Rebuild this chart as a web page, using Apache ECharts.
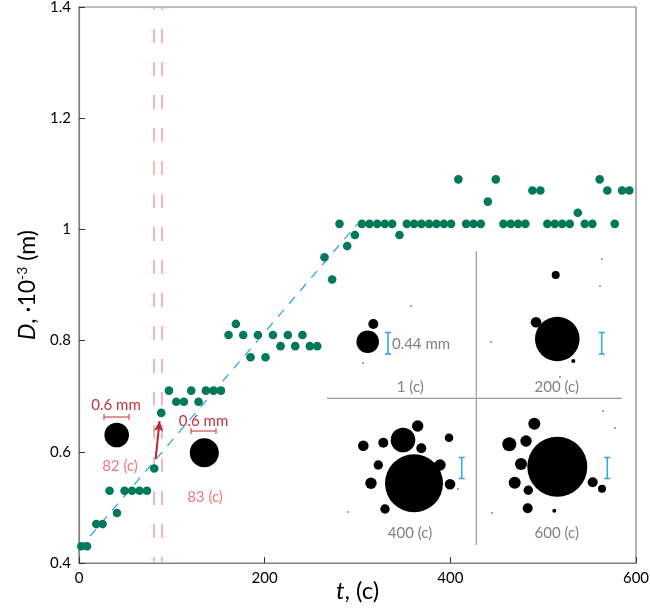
<!DOCTYPE html>
<html>
<head>
<meta charset="utf-8">
<script src="https://cdn.jsdelivr.net/npm/echarts@6/dist/echarts.min.js"></script>
<style>html,body{margin:0;padding:0;background:#fff;}#c{width:650px;height:610px;}</style>
</head>
<body>
<div id="c"></div>
<script>
// ---- data ----
var tValues = [2.5, 8.6, 18.6, 25.4, 32.9, 40.9, 49.1, 57.1, 65.2, 73.2, 81.1, 88.6, 96.9, 104.8, 113.0, 120.9, 128.8, 136.7, 144.9, 152.9, 161.1, 169.0, 176.9, 184.8, 192.7, 200.9, 208.9, 217.1, 225.0, 232.9, 240.7, 248.7, 256.6, 264.4, 272.7, 280.6, 288.9, 297.2, 304.7, 312.9, 321.2, 329.5, 337.3, 345.2, 353.1, 361.0, 368.9, 377.1, 385.0, 393.0, 400.8, 408.7, 417.0, 424.9, 432.8, 440.4, 449.0, 457.2, 465.1, 473.0, 480.8, 488.4, 497.0, 504.5, 512.5, 520.4, 528.6, 537.3, 544.8, 553.0, 560.9, 569.1, 577.1, 585.0, 592.8];
var dValues = [0.43,0.43,0.47,0.47,0.53,0.49,0.53,0.53,0.53,0.53,0.57,0.67,0.71,0.69,0.69,0.71,0.69,0.71,0.71,0.71,0.81,0.83,0.81,0.77,0.81,0.77,0.81,0.79,0.81,0.79,0.81,0.79,0.79,0.95,0.91,1.01,0.97,0.99,1.01,1.01,1.01,1.01,1.01,0.99,1.01,1.01,1.01,1.01,1.01,1.01,1.01,1.09,1.01,1.01,1.01,1.05,1.09,1.01,1.01,1.01,1.01,1.07,1.07,1.01,1.01,1.01,1.01,1.03,1.01,1.01,1.09,1.07,1.01,1.07,1.07];
var trendT = [0, 300];
var trendD = [0.425, 1.01];
var markTimes = [81, 89];
var arrowFrom = [82.5, 0.587];
var arrowTo = [86.8, 0.655];
var xTicks = [0, 200, 400, 600];
var yTicks = [0.4, 0.6, 0.8, 1.0, 1.2, 1.4];
var insetLabels = ['82 (c)', '83 (c)', '1 (c)', '200 (c)', '400 (c)', '600 (c)'];
var scaleLabels = ['0.6 mm', '0.6 mm', '0.44 mm'];

var FONT = 'Lato, "Open Sans", sans-serif';
var points = tValues.map(function (t, i) { return [t, dValues[i]]; });
var trend = trendT.map(function (t, i) { return [t, trendD[i]]; });

// ---- annotation helpers (inset pictures) ----
function circ(cx, cy, r) { return {type:'circle', shape:{cx:cx, cy:cy, r:r}, style:{fill:'#000'}, z:10}; }
function ln(x1, y1, x2, y2, c, w) { return {type:'line', shape:{x1:x1, y1:y1, x2:x2, y2:y2}, style:{stroke:c, lineWidth:w}, z:10}; }
function hBar(x1, x2, y, c) { return [ln(x1, y, x2, y, c, 1.3), ln(x1, y-3, x1, y+3, c, 1.3), ln(x2, y-3, x2, y+3, c, 1.3)]; }
function vBar(x, y1, y2, c) { return [ln(x, y1, x, y2, c, 1.6), ln(x-3, y1, x+3, y1, c, 1.6), ln(x-3, y2, x+3, y2, c, 1.6)]; }
function txt(x, y, s, c, size) {
  return {type:'text', x:x, y:y, z:11, style:{text:s, fill:c, font:size + 'px ' + FONT, textAlign:'center', textVerticalAlign:'middle', align:'center', verticalAlign:'middle'}};
}
var g = [];
// 82 (c)
g.push(txt(116, 405, scaleLabels[0], '#c0343c', 15));
g = g.concat(hBar(104, 129, 417, '#d45a62'));
g.push(circ(116.7, 435, 12.3));
g.push(txt(120, 466, insetLabels[0], '#f07880', 15));
// 83 (c)
g.push(txt(203.5, 421, scaleLabels[1], '#c0343c', 15));
g = g.concat(hBar(191, 216, 431, '#d45a62'));
g.push(circ(204.3, 452.7, 14.5));
g.push(txt(205, 497, insetLabels[1], '#f07880', 15));
// big inset frame lines
g.push(ln(327, 398.3, 622, 398.3, '#9a9a9a', 1.2));
g.push(ln(476.3, 251, 476.3, 545, '#9a9a9a', 1.2));
// 1 (c)
g.push(circ(367.7, 341.7, 11.3), circ(373.3, 324, 5));
g = g.concat(vBar(388, 332.5, 354, '#3aa8e0'));
g.push(txt(421, 344, scaleLabels[2], '#808080', 15));
g.push(txt(410.3, 387.5, insetLabels[2], '#808080', 15));
// 200 (c)
g.push(circ(557.3, 339, 22.3), circ(536, 322.3, 5.3), circ(555.7, 275, 4), circ(573.3, 361, 2));
g = g.concat(vBar(601.7, 332.5, 354, '#3aa8e0'));
g.push(txt(556.7, 387.5, insetLabels[3], '#808080', 15));
// 400 (c)
g.push(circ(414, 483.3, 29), circ(403, 440, 12.3), circ(417.7, 426, 5.7), circ(383.3, 442.7, 5),
       circ(363.3, 445.7, 5.3), circ(421.3, 448.3, 5), circ(378.3, 465, 4.7), circ(440, 465, 5.7),
       circ(371, 483.3, 5.7), circ(449, 437.7, 4.3), circ(450, 484.3, 5.3), circ(385, 509, 4.7));
g = g.concat(vBar(461.7, 457.5, 478.5, '#3aa8e0'));
g.push(txt(410, 533, insetLabels[4], '#808080', 15));
// 600 (c)
g.push(circ(557.3, 466.7, 30), circ(534.3, 423.7, 6), circ(509.3, 444.3, 7), circ(526, 441, 5.7),
       circ(521, 464, 6), circ(514.7, 482.7, 6), circ(528.3, 490.3, 4.7), circ(527.7, 508.3, 5),
       circ(592.7, 482.3, 5), circ(602, 488.7, 4), circ(554.3, 510.7, 2));
g = g.concat(vBar(607.3, 457.5, 478.5, '#3aa8e0'));
g.push(txt(556.7, 533, insetLabels[5], '#808080', 15));
// tiny specks
[[411,306],[363,363],[602,259],[600,286],[491,342],[560,377],[348,512],[458,489],[603,411],[492,513],[615,428]].forEach(function(p){
  g.push({type:'circle', shape:{cx:p[0], cy:p[1], r:0.8}, style:{fill:'#333'}, z:10});
});

var chart = echarts.init(document.getElementById('c'));
chart.setOption({
  animation: false,
  backgroundColor: '#fff',
  textStyle: {fontFamily: FONT},
  grid: {left: 79, right: 14, top: 7, bottom: 47, show: true, borderColor: '#7f7f7f', borderWidth: 1.2,
         containLabel: false, outerBoundsMode: 'none'},
  xAxis: {
    type: 'value', min: xTicks[0], max: xTicks[xTicks.length-1], interval: xTicks[1]-xTicks[0],
    name: '{i|t}{n|, (c)}', nameLocation: 'middle', nameGap: 16, nameMoveOverlap: false,
    nameTextStyle: {rich: {i: {fontSize: 24, fontStyle: 'italic', fontFamily: FONT, color: '#000'}, n: {fontSize: 24, fontFamily: FONT, color: '#000'}}},
    axisLine: {lineStyle: {color: '#7f7f7f', width: 1.2}},
    axisTick: {inside: true, length: 6, lineStyle: {color: '#333'}},
    axisLabel: {color: '#000', fontSize: 15, margin: 8},
    splitLine: {show: false}
  },
  yAxis: {
    type: 'value', min: yTicks[0], max: yTicks[yTicks.length-1], interval: 0.2,
    name: '{i|D}{n|, ·10}{s|-3}{n| (m)}', nameLocation: 'middle', nameGap: 38, nameRotate: 90, nameMoveOverlap: false,
    nameTextStyle: {rich: {
      i: {fontSize: 23, fontStyle: 'italic', fontFamily: FONT, color: '#000'},
      n: {fontSize: 23, fontFamily: FONT, color: '#000'},
      s: {fontSize: 14, fontFamily: FONT, color: '#000', verticalAlign: 'bottom', padding: [0, 0, 12, 0]}
    }},
    axisLine: {lineStyle: {color: '#7f7f7f', width: 1.2}},
    axisTick: {inside: true, length: 6, lineStyle: {color: '#333'}},
    axisLabel: {color: '#000', fontSize: 15, margin: 8},
    splitLine: {show: false}
  },
  series: [
    {
      type: 'line', data: trend, showSymbol: false, symbol: 'none', z: 2,
      lineStyle: {color: '#2aa0dc', width: 1.2, type: [9, 8]},
      markLine: {
        silent: true, symbol: ['none', 'none'], label: {show: false},
        lineStyle: {color: '#f4a0a8', width: 1.5, type: [14, 19], dashOffset: 8},
        data: markTimes.map(function (t) { return {xAxis: t}; })
      }
    },
    {
      type: 'scatter', data: points, symbolSize: 8.6, z: 5,
      itemStyle: {color: '#00795a', opacity: 1}
    },
    {
      type: 'line', data: [], z: 6,
      markLine: {
        silent: true, symbol: ['none', 'arrow'], symbolSize: [7, 10], label: {show: false},
        lineStyle: {color: '#c0202c', width: 2, type: 'solid'},
        data: [[{coord: arrowFrom}, {coord: arrowTo}]]
      }
    }
  ],
  graphic: g
});
</script>
</body>
</html>
